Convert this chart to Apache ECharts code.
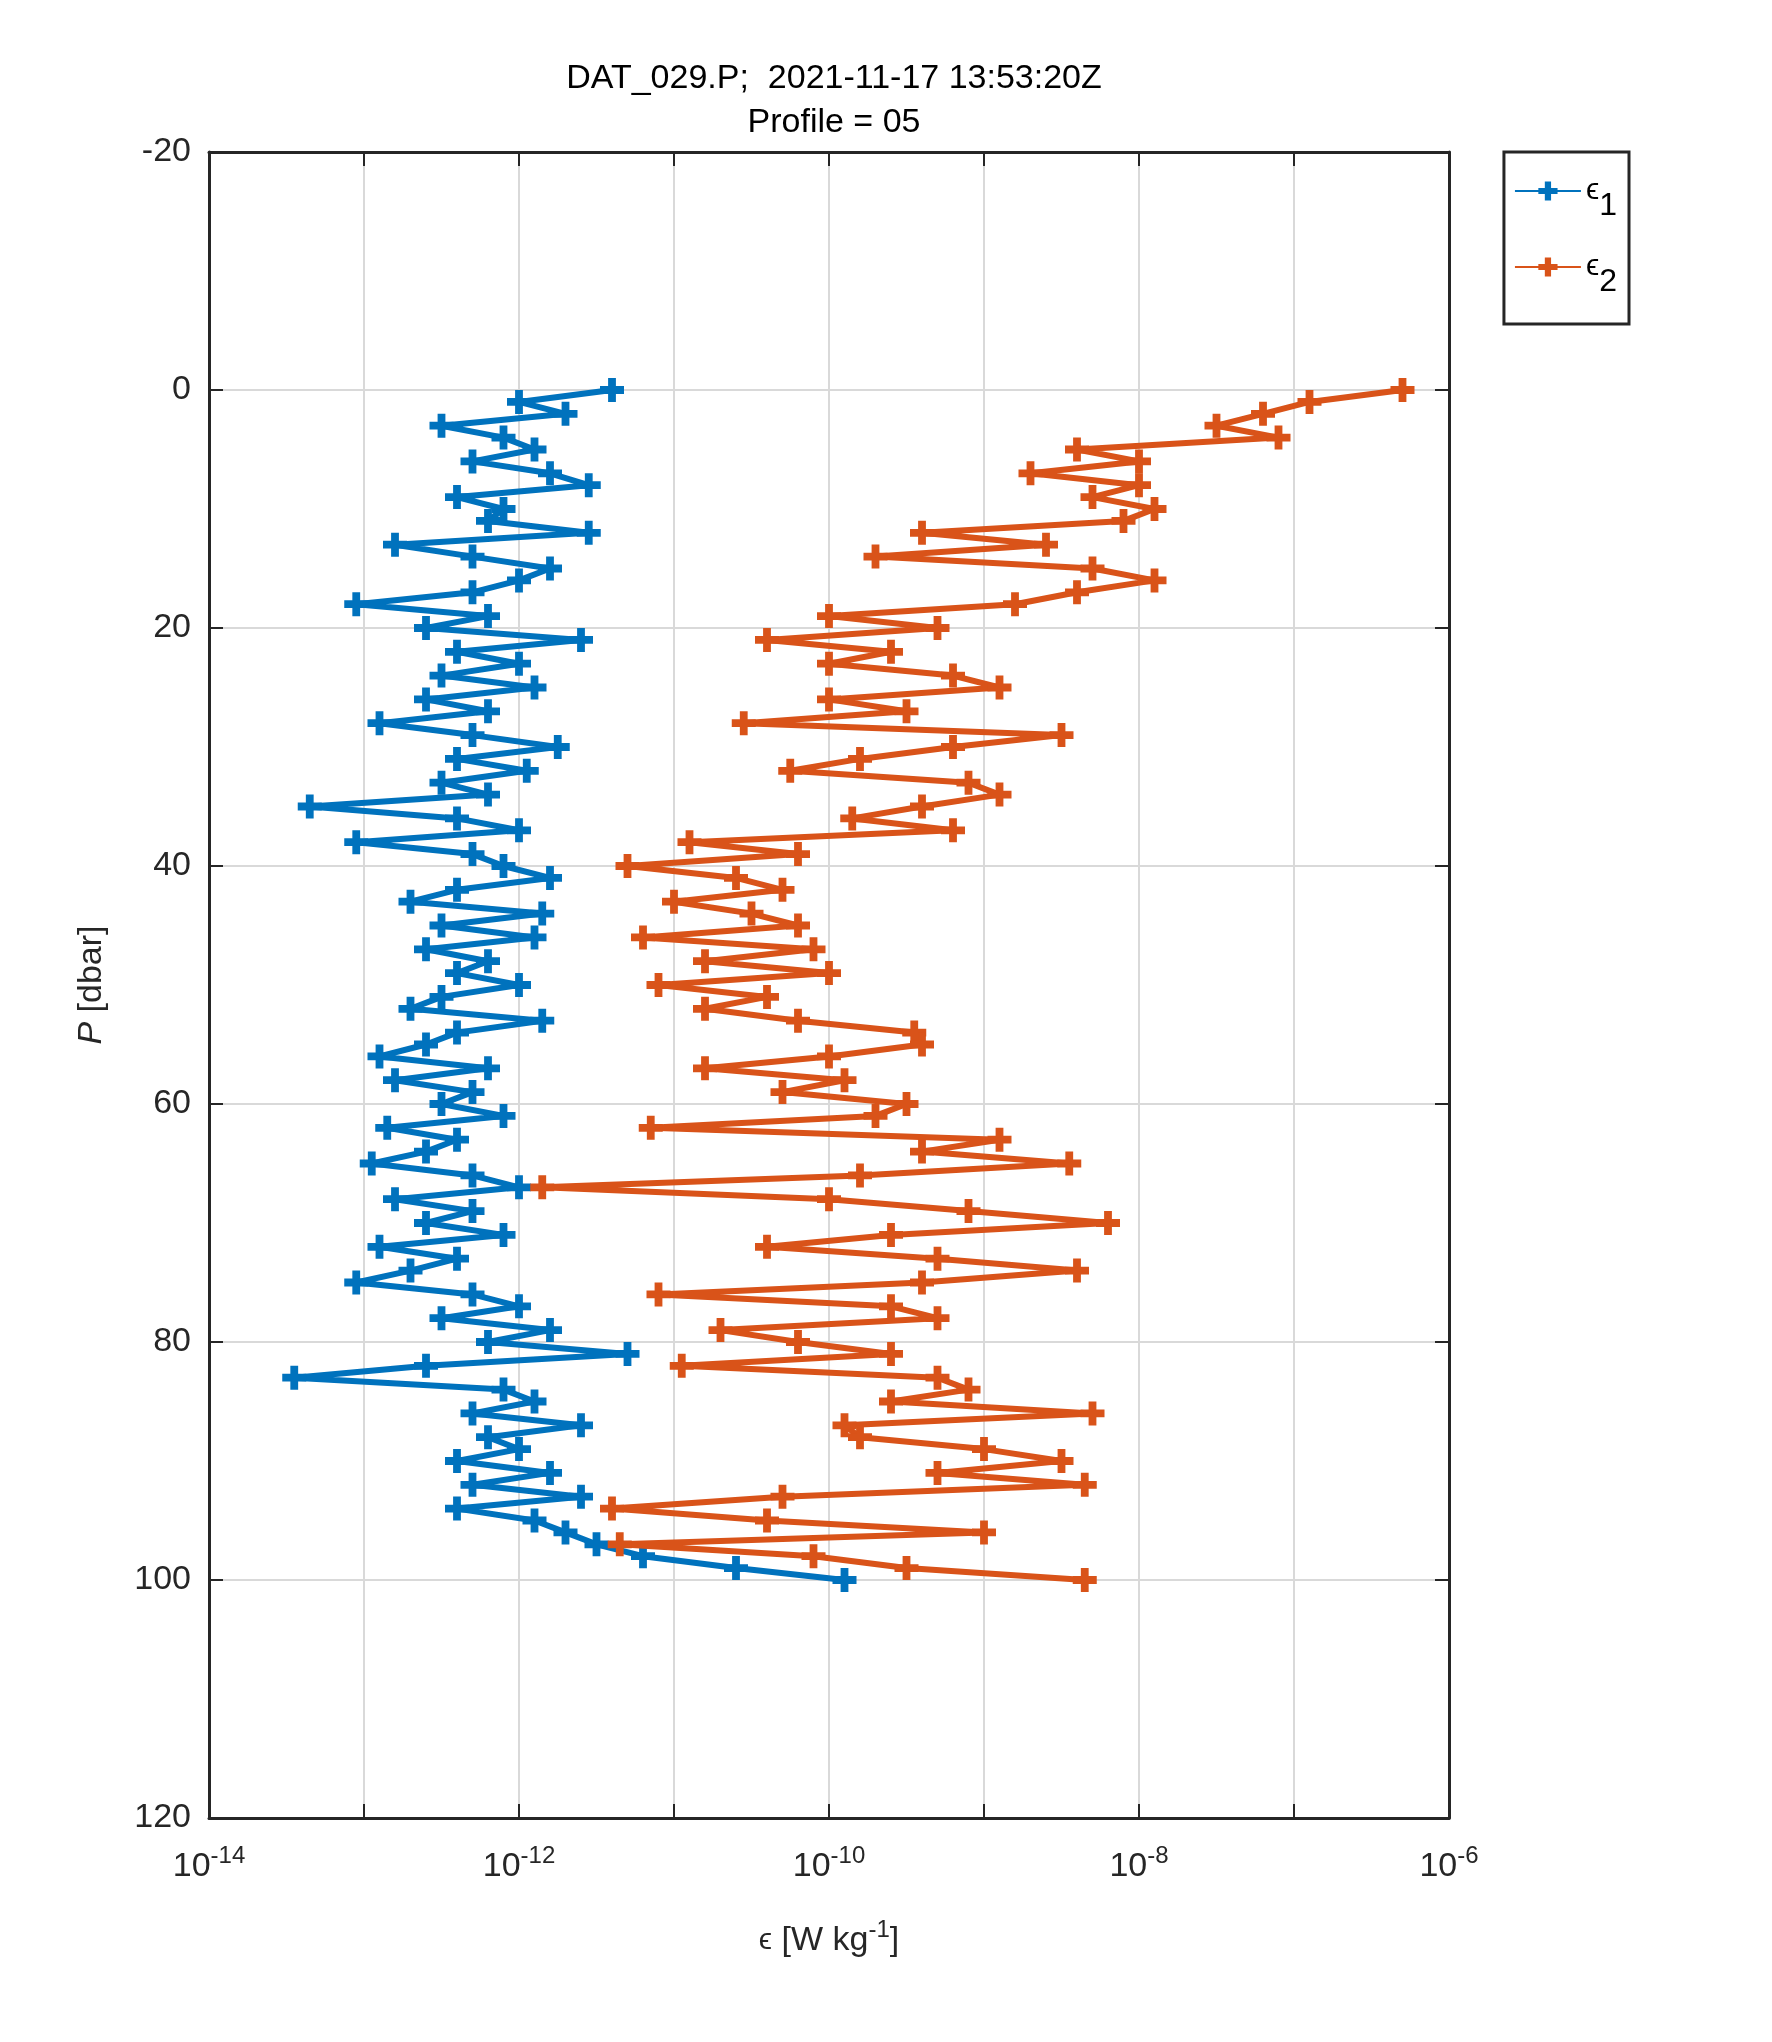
<!DOCTYPE html>
<html><head><meta charset="utf-8">
<script src="https://cdn.jsdelivr.net/npm/echarts@6/dist/echarts.min.js"></script>
<style>html,body{margin:0;background:#fff}#c{width:1772px;height:2042px}</style>
</head><body><div id="c"></div>
<script>
// pressure levels [dbar]
var P = [0,1,2,3,4,5,6,7,8,9,10,11,12,13,14,15,16,17,18,19,20,21,22,23,24,25,26,27,28,29,
  30,31,32,33,34,35,36,37,38,39,40,41,42,43,44,45,46,47,48,49,50,51,52,53,54,55,56,57,58,59,
  60,61,62,63,64,65,66,67,68,69,70,71,72,73,74,75,76,77,78,79,80,81,82,83,84,85,86,87,88,89,
  90,91,92,93,94,95,96,97,98,99,100];
// log10 of epsilon
var logEps1 = [-11.4,-12.0,-11.7,-12.5,-12.1,-11.9,-12.3,-11.8,-11.55,-12.4,-12.1,-12.2,-11.55,-12.8,-12.3,-11.8,-12.0,-12.3,-13.05,-12.2,
  -12.6,-11.6,-12.4,-12.0,-12.5,-11.9,-12.6,-12.2,-12.9,-12.3,-11.75,-12.4,-11.95,-12.5,-12.2,-13.35,-12.4,-12.0,-13.05,-12.3,
  -12.1,-11.8,-12.4,-12.7,-11.85,-12.5,-11.9,-12.6,-12.2,-12.4,-12.0,-12.5,-12.7,-11.85,-12.4,-12.6,-12.9,-12.2,-12.8,-12.3,
  -12.5,-12.1,-12.85,-12.4,-12.6,-12.95,-12.3,-12.0,-12.8,-12.3,-12.6,-12.1,-12.9,-12.4,-12.7,-13.05,-12.3,-12.0,-12.5,-11.8,
  -12.2,-11.3,-12.6,-13.45,-12.1,-11.9,-12.3,-11.6,-12.2,-12.0,-12.4,-11.8,-12.3,-11.6,-12.4,-11.9,-11.7,-11.5,-11.2,-10.6,-9.9];
var logEps2 = [-6.3,-6.9,-7.2,-7.5,-7.1,-8.4,-8.0,-8.7,-8.0,-8.3,-7.9,-8.1,-9.4,-8.6,-9.7,-8.3,-7.9,-8.4,-8.8,-10.0,
  -9.3,-10.4,-9.6,-10.0,-9.2,-8.9,-10.0,-9.5,-10.55,-8.5,-9.2,-9.8,-10.25,-9.1,-8.9,-9.4,-9.85,-9.2,-10.9,-10.2,
  -11.3,-10.6,-10.3,-11.0,-10.5,-10.2,-11.2,-10.1,-10.8,-10.0,-11.1,-10.4,-10.8,-10.2,-9.45,-9.4,-10.0,-10.8,-9.9,-10.3,
  -9.5,-9.7,-11.15,-8.9,-9.4,-8.45,-9.8,-11.85,-10.0,-9.1,-8.2,-9.6,-10.4,-9.3,-8.4,-9.4,-11.1,-9.6,-9.3,-10.7,
  -10.2,-9.6,-10.95,-9.3,-9.1,-9.6,-8.3,-9.9,-9.8,-9.0,-8.5,-9.3,-8.35,-10.3,-11.4,-10.4,-9.0,-11.35,-10.1,-9.5,-8.35];
var decades = [-14,-13,-12,-11,-10,-9,-8,-7,-6];

function pairs(logs) {
  return logs.map(function (l, i) { return [Math.pow(10, l), P[i]]; });
}
var minorLines = [];
decades.slice(0, -1).forEach(function (d) {
  for (var k = 2; k <= 9; k++) minorLines.push({xAxis: k * Math.pow(10, d)});
});
var plus = 'path://M-1.3,-4L1.3,-4L1.3,-1.3L4,-1.3L4,1.3L1.3,1.3L1.3,4L-1.3,4L-1.3,1.3L-4,1.3L-4,-1.3L-1.3,-1.3Z';
var font = 'Liberation Sans';
var ink = '#262626';
var sup = {sup: {fontSize: 24, verticalAlign: 'top', padding: [0, 0, 22, 0], fontFamily: font, color: ink}};

function boxAxis(type, pos, extra) {
  var a = {type: type, position: pos, axisLabel: {show: false}, splitLine: {show: false},
    axisLine: {show: true, onZero: false, lineStyle: {color: ink, width: 3}},
    axisTick: {inside: true, length: 14, lineStyle: {color: ink, width: 2}}};
  return Object.assign(a, extra);
}

var chart = echarts.init(document.getElementById('c'));
chart.setOption({
  backgroundColor: '#fff',
  textStyle: {fontFamily: font},
  title: {
    text: 'DAT_029.P;  2021-11-17 13:53:20Z\nProfile = 05',
    left: 829, top: 52, textAlign: 'center',
    textStyle: {fontSize: 34, fontWeight: 'normal', color: '#000', lineHeight: 44, fontFamily: font}
  },
  legend: {
    right: 143, top: 152, orient: 'vertical', itemGap: 30, padding: [24, 12, 26, 10],
    borderColor: ink, borderWidth: 3, itemWidth: 66, itemHeight: 24,
    formatter: function (n) { return '{e|ϵ}{s|' + n.slice(1) + '}'; },
    textStyle: {rich: {e: {fontSize: 30, color: '#000', fontFamily: font}, s: {fontSize: 32, color: '#000', padding: [30, 0, 0, 0], fontFamily: font}}},
    data: ['ϵ1', 'ϵ2']
  },
  grid: {left: 209, right: 323, top: 152, bottom: 224},
  xAxis: [{
    type: 'log', logBase: 10, min: 1e-14, max: 1e-6,
    name: '{e|ϵ} [W kg{sup|-1}]', nameLocation: 'middle', nameGap: 100,
    nameTextStyle: {fontSize: 34, color: ink, rich: Object.assign({e: {fontSize: 30, color: ink, fontFamily: font}}, sup)},
    axisLine: {onZero: false, lineStyle: {color: ink, width: 3}},
    axisTick: {inside: true, length: 14, lineStyle: {color: ink, width: 2}},
    splitLine: {show: true, lineStyle: {color: '#d9d9d9', width: 2}},
    axisLabel: {
      margin: 26, fontSize: 34, color: ink,
      formatter: function (v) {
        var e = Math.round(Math.log10(v));
        return e % 2 === 0 ? '10{sup|' + e + '}' : '';
      },
      rich: sup
    }
  }, boxAxis('log', 'top', {logBase: 10, min: 1e-14, max: 1e-6})],
  yAxis: [{
    type: 'value', inverse: true, min: -20, max: 120, interval: 20,
    name: '{i|P} [dbar]', nameLocation: 'middle', nameGap: 100, nameRotate: 90,
    nameTextStyle: {fontSize: 34, color: ink, rich: {i: {fontStyle: 'italic', fontSize: 34, color: ink, fontFamily: font}}},
    axisLine: {onZero: false, lineStyle: {color: ink, width: 3}},
    axisTick: {inside: true, length: 14, lineStyle: {color: ink, width: 2}},
    splitLine: {show: true, lineStyle: {color: '#d9d9d9', width: 2}},
    axisLabel: {margin: 18, fontSize: 34, color: ink}
  }, boxAxis('value', 'right', {inverse: true, min: -20, max: 120, interval: 20})],
  series: [
    {
      name: 'ϵ1', type: 'line', data: pairs(logEps1), color: '#0072BD', z: 3,
      symbol: plus, symbolSize: 24, showAllSymbol: true,
      lineStyle: {width: 6}, itemStyle: {color: '#0072BD'},
      markLine: {silent: true, symbol: 'none', label: {show: false}, z: 1,
        lineStyle: {color: '#b5b5b5', type: [3, 4], width: 1.5}, data: minorLines}
    },
    {
      name: 'ϵ2', type: 'line', data: pairs(logEps2), color: '#D95319', z: 4,
      symbol: plus, symbolSize: 24, showAllSymbol: true,
      lineStyle: {width: 6}, itemStyle: {color: '#D95319'}
    }
  ]
});
</script></body></html>
